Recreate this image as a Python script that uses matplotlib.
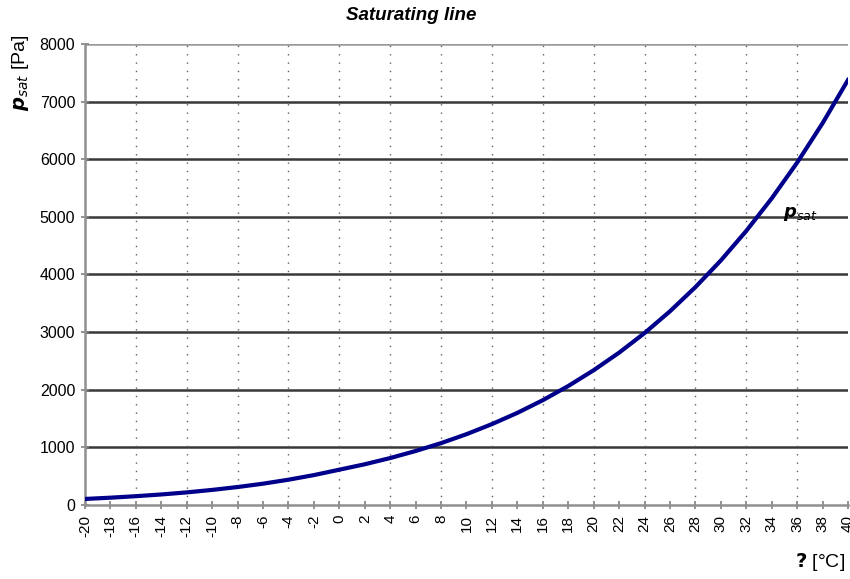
import matplotlib
matplotlib.use('Agg')
import matplotlib.pyplot as plt

plt.rcParams["font.family"] = ["Liberation Sans", "DejaVu Sans"]

# temperature [°C] and saturation pressure [Pa]
temp = [-20, -18, -16, -14, -12, -10, -8, -6, -4, -2, 0, 2, 4, 6, 8, 10,
        12, 14, 16, 18, 20, 22, 24, 26, 28, 30, 32, 34, 36, 38, 40]
p_sat = [103, 125, 151, 181, 217, 260, 310, 368, 437, 517, 611, 705, 813,
         935, 1072, 1227, 1402, 1597, 1817, 2063, 2337, 2642, 2982, 3360,
         3779, 4242, 4755, 5319, 5940, 6624, 7375]

x_ticks = list(range(-20, 41, 2))
x_grid = list(range(-16, 37, 4))
y_ticks = list(range(0, 8001, 1000))

fig = plt.figure(figsize=(8.5, 5.79), dpi=100)
fig.patch.set_facecolor("white")
ax = fig.add_axes([0.1, 0.128, 0.8976, 0.796])

# grid: solid horizontal, dotted vertical every 4 degrees
for yv in y_ticks[1:-1]:
    ax.axhline(yv, color="#383838", linewidth=1.8, zorder=1)
ax.axhline(8000, color="#9a9a9a", linewidth=1.8, zorder=1)
for xv in x_grid:
    ax.axvline(xv, color="#606060", linewidth=1.0, linestyle=(0, (1, 5)), zorder=1)

ax.plot(temp, p_sat, color="#00008b", linewidth=3.0, zorder=3)

ax.set_xlim(-20, 40)
ax.set_ylim(0, 8000)
ax.set_xticks(x_ticks)
ax.set_xticklabels([str(t) for t in x_ticks], rotation=90, fontsize=11)
ax.set_yticks(y_ticks)
ax.set_yticklabels([str(v) for v in y_ticks], fontsize=11.5)
ax.tick_params(axis="both", direction="inout", length=6, width=1.2,
               color="#808080", pad=4)

for side in ["top", "right"]:
    ax.spines[side].set_visible(False)
for side in ["left", "bottom"]:
    ax.spines[side].set_color("#909090")
    ax.spines[side].set_linewidth(1.8)

fig.text(0.484, 0.973, "Saturating line", fontsize=13.5, fontweight="bold",
         style="italic", ha="center", va="center")

fig.text(0.024, 0.875, r"$\boldsymbol{p}_{sat}$ [Pa]", rotation=90, fontsize=14,
         ha="center", va="center")
fig.text(0.994, 0.029, r"$\boldsymbol{?}$ [°C]", fontsize=14, ha="right", va="center")
ax.text(34.9, 4900, r"$\boldsymbol{p}_{sat}$", fontsize=13, ha="left", va="bottom")

plt.savefig("out.png", dpi=100, facecolor=fig.get_facecolor())
